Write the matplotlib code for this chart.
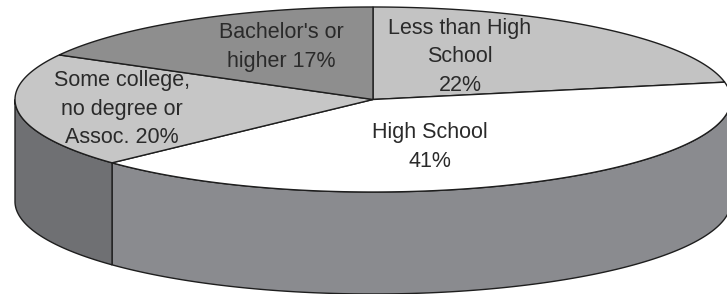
import numpy as np
import matplotlib.pyplot as plt
from matplotlib.patches import Polygon

# Education levels, clockwise from 12 o'clock
labels = ["Less than High\nSchool\n22%", "High School\n41%",
          "Some college,\nno degree or\nAssoc. 20%", "Bachelor's or\nhigher 17%"]
shares = [22, 41, 20, 17]
top_colors = ["#c3c3c3", "#ffffff", "#c6c6c6", "#8e8e8e"]
side_colors = ["#a0a0a0", "#8a8b8f", "#6f7073", "#6a6a6a"]
label_pos = [(460, 57), (430, 147), (122, 109), (281, 47)]

# ellipse geometry in pixel units
cx, cy, rx, ry, depth = 373, 99.5, 358, 92.5, 102

fig = plt.figure(figsize=(7.27, 2.94), dpi=100)
ax = fig.add_axes([0, 0, 1, 1])
ax.set_xlim(0, 727)
ax.set_ylim(294, 0)
ax.axis("off")


def arc(a, b, dy=0, n=200):
    t = np.radians(np.linspace(a, b, n))
    return np.column_stack([cx + rx * np.cos(t), cy - ry * np.sin(t) + dy])


# slice boundaries in degrees (counter-clockwise math angles)
bounds = [90.0]
for s in shares:
    bounds.append(bounds[-1] - s / sum(shares) * 360)

# side walls: only the front half (180..360 deg) is visible
for i in range(len(shares)):
    hi, lo = bounds[i], bounds[i + 1]
    a, b = lo % 360, hi % 360
    if b <= a:
        b += 360
    a2, b2 = max(a, 180), min(b, 360)
    if b2 > a2:
        top = arc(a2, b2)
        bot = arc(b2, a2, dy=depth)
        ax.add_patch(Polygon(np.vstack([top, bot]), closed=True,
                             facecolor=side_colors[i], edgecolor="#1e1e1e", lw=1.0))

# top faces
for i in range(len(shares)):
    pts = np.vstack([[cx, cy], arc(bounds[i], bounds[i + 1])])
    ax.add_patch(Polygon(pts, closed=True, facecolor=top_colors[i],
                         edgecolor="#1e1e1e", lw=1.0))

for lab, (x, y) in zip(labels, label_pos):
    ax.text(x, y, lab, ha="center", va="center", fontsize=15.5,
            family="Liberation Sans", color="#2a2a2a", linespacing=1.45)

fig.savefig("out.png", dpi=100)
